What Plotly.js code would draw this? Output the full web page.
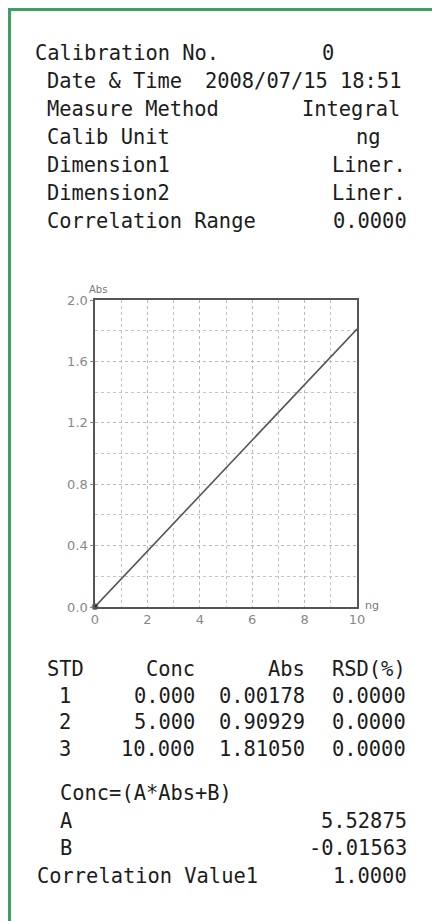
<!DOCTYPE html>
<html>
<head>
<meta charset="utf-8">
<script src="https://cdn.plot.ly/plotly-3.0.1.min.js"></script>
<style>
html,body{margin:0;padding:0;background:#fff;}
#chart{width:432px;height:921px;}
</style>
</head>
<body>
<div id="chart"></div>
<script>
// ---- data ----
const calibrationNo = "0";
const infoLabels = ["Date & Time", "Measure Method", "Calib Unit", "Dimension1", "Dimension2", "Correlation Range"];
const infoValues = ["2008/07/15 18:51", "Integral", "ng", "Liner.", "Liner.", "0.0000"];
const stdNo = [1, 2, 3];
const conc = [0.000, 5.000, 10.000];
const absVals = [0.00178, 0.90929, 1.81050];
const rsd = [0.0000, 0.0000, 0.0000];
const tableHeader = ["STD", "Conc", "Abs", "RSD(%)"];
const coefA = 5.52875;
const coefB = -0.01563;
const correlationValue1 = 1.0000;
const xTickVals = [0, 2, 4, 6, 8, 10];
const yTickVals = [0.0, 0.4, 0.8, 1.2, 1.6, 2.0];
const yTickText = ["0.0", "0.4", "0.8", "1.2", "1.6", "2.0"];

// ---- layout geometry (pixels) ----
const W = 432, H = 921;
const L = 95, R = 357, T = 300, B = 607;
const px = x => (x - L) / (R - L);
const py = y => (B - y) / (B - T);

const MONO = "DejaVu Sans Mono, Liberation Mono, monospace";
const FS = 20.4;
const TXT = "#1c1c1c";

function ann(text, x, y, xanchor, opts) {
  opts = opts || {};
  return {
    text: text, x: px(x), y: py(y), xref: "paper", yref: "paper",
    xanchor: xanchor, yanchor: "middle", showarrow: false,
    font: {family: opts.family || MONO, size: opts.size || FS, color: opts.color || TXT}
  };
}

const annotations = [];
// header block
annotations.push(ann("Calibration No.", 33, 53, "left"));
annotations.push(ann(calibrationNo, 328, 53, "center"));
const infoRight = [403, 402, 383, 408, 408, 409];
infoLabels.forEach((lab, i) => {
  const y = 81 + 28 * i;
  annotations.push(ann(lab, 45, y, "left"));
  annotations.push(ann(infoValues[i], infoRight[i], y, "right"));
});

// axis unit labels
annotations.push(ann("Abs", 98, 289, "center", {family: "DejaVu Sans", size: 10, color: "#777"}));
annotations.push(ann("ng", 372, 605, "center", {family: "DejaVu Sans", size: 11, color: "#777"}));

// table
const tabY0 = 669, tabDy = 26.7;
annotations.push(ann(tableHeader[0], 45, tabY0, "left"));
annotations.push(ann(tableHeader[1], 197, tabY0, "right"));
annotations.push(ann(tableHeader[2], 307, tabY0, "right"));
annotations.push(ann(tableHeader[3], 408, tabY0, "right"));
stdNo.forEach((n, i) => {
  const y = tabY0 + tabDy * (i + 1);
  annotations.push(ann(String(n), 65, y, "center"));
  annotations.push(ann(conc[i].toFixed(3), 197, y, "right"));
  annotations.push(ann(absVals[i].toFixed(5), 307, y, "right"));
  annotations.push(ann(rsd[i].toFixed(4), 408, y, "right"));
});

// equation block
annotations.push(ann("Conc=(A*Abs+B)", 58, 793, "left"));
annotations.push(ann("A", 58, 821, "left"));
annotations.push(ann(coefA.toFixed(5), 409, 821, "right"));
annotations.push(ann("B", 58, 848, "left"));
annotations.push(ann(coefB.toFixed(5), 409, 848, "right"));
annotations.push(ann("Correlation Value1", 35, 876, "left"));
annotations.push(ann(correlationValue1.toFixed(4), 409, 876, "right"));

const shapes = [
  {type: "rect", xref: "paper", yref: "paper",
   x0: px(9.5), x1: px(445), y0: py(940), y1: py(9.5),
   line: {color: "#3c9f66", width: 3}, fillcolor: "rgba(0,0,0,0)", layer: "above"}
];

const trace = {
  x: conc, y: absVals, type: "scatter", mode: "lines+markers",
  line: {color: "#555", width: 1.6},
  marker: {color: "#111", size: [6, 0, 0]},
  hoverinfo: "skip", cliponaxis: false
};

const gridStyle = {showgrid: true, gridcolor: "#b8b8b8", gridwidth: 1, griddash: "dot"};

const layout = {
  width: W, height: H,
  margin: {l: L, r: W - R, t: T, b: H - B, pad: 0},
  paper_bgcolor: "#fff", plot_bgcolor: "#fff",
  showlegend: false,
  xaxis: Object.assign({
    range: [0, 10], tickvals: xTickVals, ticktext: xTickVals.map(String),
    ticks: "", showline: true, mirror: true, linecolor: "#555", linewidth: 1.6,
    zeroline: false, fixedrange: true,
    tickfont: {family: "DejaVu Sans", size: 13, color: "#888"},
    minor: {dtick: 1, tick0: 0, showgrid: true, gridcolor: "#c4c4c4", griddash: "dot", ticks: ""}
  }, gridStyle),
  yaxis: Object.assign({
    range: [0, 2], tickvals: yTickVals, ticktext: yTickText,
    ticks: "outside", ticklen: 3, tickcolor: "#888",
    showline: true, mirror: true, linecolor: "#555", linewidth: 1.6,
    zeroline: false, fixedrange: true,
    tickfont: {family: "DejaVu Sans", size: 13, color: "#888"},
    minor: {dtick: 0.2, tick0: 0, showgrid: true, gridcolor: "#c4c4c4", griddash: "dot", ticks: ""}
  }, gridStyle),
  annotations: annotations,
  shapes: shapes
};

Plotly.newPlot("chart", [trace], layout, {staticPlot: true, displayModeBar: false});
</script>
</body>
</html>
